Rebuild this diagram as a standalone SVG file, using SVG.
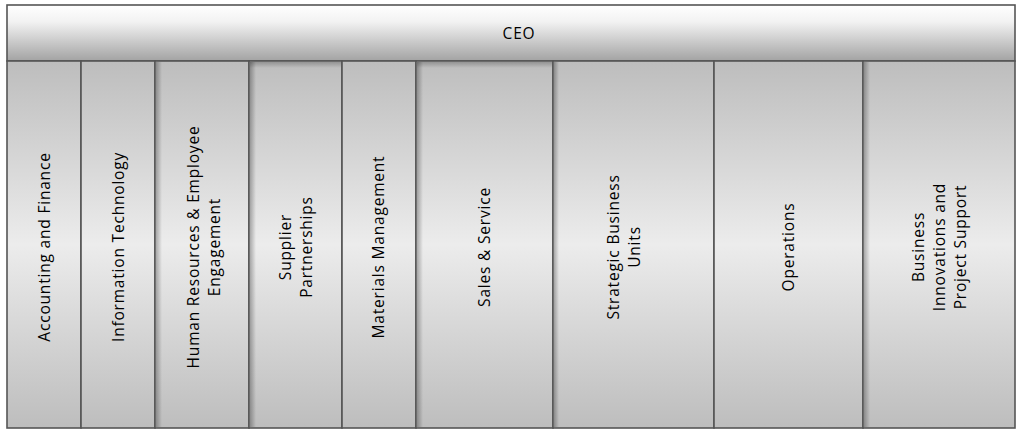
<svg xmlns="http://www.w3.org/2000/svg" width="1022" height="429" viewBox="0 0 1022 429">
<defs>
<linearGradient id="hg" x1="0" y1="0" x2="0" y2="1">
<stop offset="0" stop-color="#ffffff"/>
<stop offset="0.3" stop-color="#f2f2f2"/>
<stop offset="1" stop-color="#a3a3a3"/>
</linearGradient>
<linearGradient id="cg" x1="0" y1="0" x2="0" y2="1">
<stop offset="0" stop-color="#bdbdbd"/>
<stop offset="0.5" stop-color="#ececec"/>
<stop offset="1" stop-color="#bdbdbd"/>
</linearGradient>
<linearGradient id="sl" x1="0" y1="0" x2="1" y2="0">
<stop offset="0" stop-color="#000" stop-opacity="0.28"/>
<stop offset="1" stop-color="#000" stop-opacity="0"/>
</linearGradient>
<linearGradient id="st" x1="0" y1="0" x2="0" y2="1">
<stop offset="0" stop-color="#000" stop-opacity="0.22"/>
<stop offset="1" stop-color="#000" stop-opacity="0"/>
</linearGradient>
</defs>
<style>
.box{fill:url(#cg);stroke:#555;stroke-width:1.6}
.hdr{fill:url(#hg);stroke:#555;stroke-width:1.6}
.sh{fill:url(#sl)}
.sht{fill:url(#st)}
text{font-family:"Open Sans","Liberation Sans",sans-serif;font-size:15.5px;letter-spacing:0.8px;fill:#000;text-anchor:middle}
</style>
<g id="ceo">
<rect class="hdr" x="7" y="5" width="1008" height="56"/>
<text x="519" y="39">CEO</text>
</g>
<g id="accounting">
<rect class="box" x="7" y="61" width="74" height="367"/>
<text transform="translate(49.5,247) rotate(-90)">Accounting and Finance</text>
</g>
<g id="it">
<rect class="box" x="81" y="61" width="74" height="367"/>
<text transform="translate(123.5,247) rotate(-90)">Information Technology</text>
</g>
<g id="hr">
<rect class="box" x="155" y="61" width="94" height="367"/>
<rect class="sh" x="156" y="62" width="6" height="365"/>
<text transform="translate(198.5,247) rotate(-90)"><tspan x="0" y="0">Human Resources &amp; Employee</tspan><tspan x="0" y="21">Engagement</tspan></text>
</g>
<g id="supplier">
<rect class="box" x="249" y="61" width="93" height="367"/>
<rect class="sh" x="250" y="62" width="6" height="365"/>
<rect class="sht" x="250" y="62" width="91" height="6"/>
<text transform="translate(290.5,247) rotate(-90)"><tspan x="0" y="0">Supplier</tspan><tspan x="0" y="21">Partnerships</tspan></text>
</g>
<g id="materials">
<rect class="box" x="342" y="61" width="74" height="367"/>
<text transform="translate(383.5,247) rotate(-90)">Materials Management</text>
</g>
<g id="sales">
<rect class="box" x="416" y="61" width="137" height="367"/>
<rect class="sh" x="417" y="62" width="6" height="365"/>
<rect class="sht" x="417" y="62" width="135" height="6"/>
<text transform="translate(489.5,247) rotate(-90)">Sales &amp; Service</text>
</g>
<g id="sbu">
<rect class="box" x="553" y="61" width="161" height="367"/>
<rect class="sh" x="554" y="62" width="5" height="365"/>
<text transform="translate(618.5,247) rotate(-90)"><tspan x="0" y="0">Strategic Business</tspan><tspan x="0" y="21">Units</tspan></text>
</g>
<g id="operations">
<rect class="box" x="714" y="61" width="149" height="367"/>
<text transform="translate(793.5,247) rotate(-90)">Operations</text>
</g>
<g id="business">
<rect class="box" x="863" y="61" width="152" height="367"/>
<rect class="sh" x="864" y="62" width="6" height="365"/>
<text transform="translate(923.5,247) rotate(-90)"><tspan x="0" y="0">Business</tspan><tspan x="0" y="21">Innovations and</tspan><tspan x="0" y="42">Project Support</tspan></text>
</g>
<g id="connectors"/>
</svg>
